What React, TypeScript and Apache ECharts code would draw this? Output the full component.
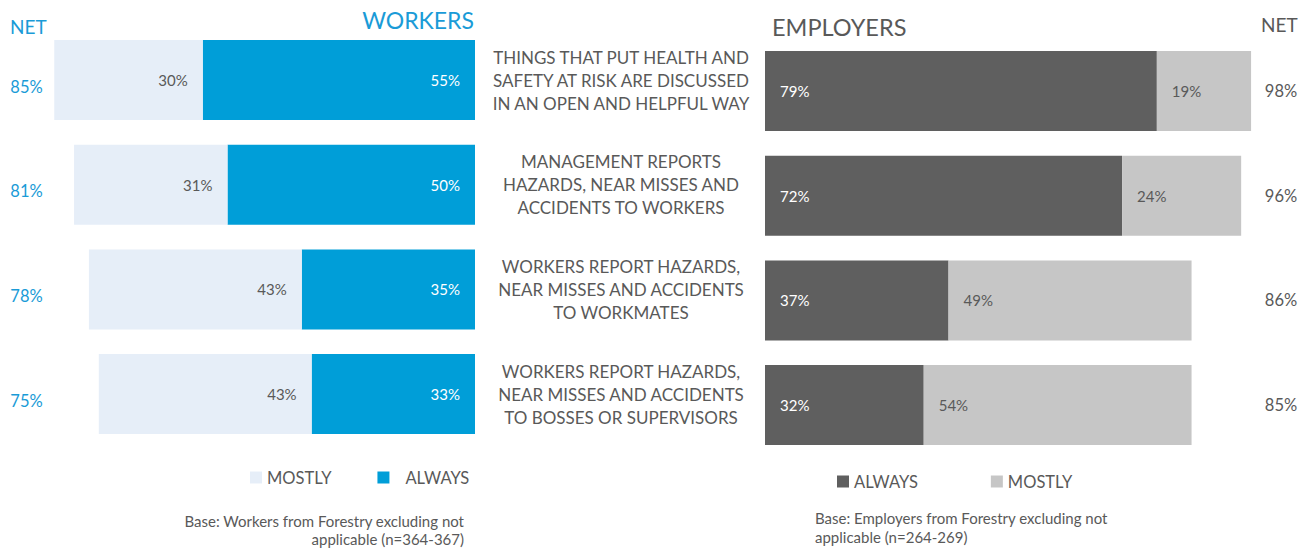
import React, { useEffect, useRef } from "react";
import * as echarts from "echarts";

const categories = [
  "THINGS THAT PUT HEALTH AND\nSAFETY AT RISK ARE DISCUSSED\nIN AN OPEN AND HELPFUL WAY",
  "MANAGEMENT REPORTS\nHAZARDS, NEAR MISSES AND\nACCIDENTS TO WORKERS",
  "WORKERS REPORT HAZARDS,\nNEAR MISSES AND ACCIDENTS\nTO WORKMATES",
  "WORKERS REPORT HAZARDS,\nNEAR MISSES AND ACCIDENTS\nTO BOSSES OR SUPERVISORS",
];
const workersAlways = [55, 50, 35, 33];
const workersMostly = [30, 31, 43, 43];
const workersNet = [85, 81, 78, 75];
const employersAlways = [79, 72, 37, 32];
const employersMostly = [19, 24, 49, 54];
const employersNet = [98, 96, 86, 85];

const FONT = "Lato, 'Open Sans', sans-serif";
const BLUE = "#009ED8";
const BLUE_TEXT = "#1A9BD7";
const LIGHT_BLUE = "#E6EEF8";
const DARK = "#5F5F5F";
const LIGHT_GREY = "#C6C6C6";
const TEXT = "#595959";

const legendNames: Record<string, string> = {
  wMostly: "MOSTLY",
  wAlways: "ALWAYS",
  eAlways: "ALWAYS",
  eMostly: "MOSTLY",
};

export default function App() {
  const ref = useRef<HTMLDivElement>(null);
  useEffect(() => {
    if (!ref.current) return;
    const chart = echarts.init(ref.current, undefined, { renderer: "svg" });
    const pct = (p: any) => p.value + "%";
    const barLabel = (pos: string, color: string) => ({
      show: true,
      position: pos,
      distance: 15,
      color,
      fontSize: 15,
      fontFamily: FONT,
      formatter: pct,
    });
    chart.setOption({
      animation: false,
      textStyle: { fontFamily: FONT },
      grid: [
        { left: 29.5, width: 445.5, top: 27.7, height: 418.7 },
        { left: 765, width: 496, top: 38.7, height: 418.7 },
      ],
      xAxis: [
        { type: "value", gridIndex: 0, min: 0, max: 90, inverse: true, show: false },
        { type: "value", gridIndex: 1, min: 0, max: 100, show: false },
      ],
      yAxis: [
        {
          type: "category",
          gridIndex: 0,
          data: categories,
          inverse: true,
          position: "right",
          axisLine: { show: false },
          axisTick: { show: false },
          axisLabel: {
            margin: 146,
            align: "center",
            color: TEXT,
            fontSize: 17,
            lineHeight: 23,
            fontFamily: FONT,
          },
        },
        {
          type: "category",
          gridIndex: 0,
          data: categories,
          inverse: true,
          position: "left",
          axisLine: { show: false },
          axisTick: { show: false },
          axisLabel: {
            margin: 3,
            align: "center",
            color: BLUE_TEXT,
            fontSize: 16.5,
            fontFamily: FONT,
            formatter: (_v: string, i: number) => "{v|" + workersNet[i] + "%}",
            rich: {
              v: {
                color: BLUE_TEXT,
                fontSize: 16.5,
                fontFamily: FONT,
                padding: [13, 0, 0, 0],
              },
            },
          },
        },
        {
          type: "category",
          gridIndex: 1,
          data: categories,
          inverse: true,
          position: "right",
          axisLine: { show: false },
          axisTick: { show: false },
          axisLabel: {
            margin: 20,
            align: "center",
            color: TEXT,
            fontSize: 16.5,
            fontFamily: FONT,
            formatter: (_v: string, i: number) => employersNet[i] + "%",
          },
        },
      ],
      legend: [
        {
          data: [
            { name: "wMostly" },
            { name: "wAlways", textStyle: { padding: [0, 0, 0, 11] } },
          ],
          left: 250,
          top: 469,
          padding: 0,
          icon: "rect",
          itemWidth: 12,
          itemHeight: 12,
          itemGap: 46,
          formatter: (n: string) => legendNames[n],
          textStyle: { color: TEXT, fontSize: 16.5, fontFamily: FONT },
          selectedMode: false,
        },
        {
          data: ["eAlways", "eMostly"],
          left: 837,
          top: 473,
          padding: 0,
          icon: "rect",
          itemWidth: 12,
          itemHeight: 12,
          itemGap: 73,
          formatter: (n: string) => legendNames[n],
          textStyle: { color: TEXT, fontSize: 16.5, fontFamily: FONT },
          selectedMode: false,
        },
      ],
      series: [
        {
          name: "wAlways",
          type: "bar",
          xAxisIndex: 0,
          yAxisIndex: 0,
          stack: "w",
          data: workersAlways,
          barWidth: 80,
          itemStyle: { color: BLUE },
          label: barLabel("insideRight", "#FFFFFF"),
        },
        {
          name: "wMostly",
          type: "bar",
          xAxisIndex: 0,
          yAxisIndex: 0,
          stack: "w",
          data: workersMostly,
          barWidth: 80,
          itemStyle: { color: LIGHT_BLUE },
          label: barLabel("insideRight", TEXT),
        },
        {
          name: "eAlways",
          type: "bar",
          xAxisIndex: 1,
          yAxisIndex: 2,
          stack: "e",
          data: employersAlways,
          barWidth: 80,
          itemStyle: { color: DARK },
          label: barLabel("insideLeft", "#FFFFFF"),
        },
        {
          name: "eMostly",
          type: "bar",
          xAxisIndex: 1,
          yAxisIndex: 2,
          stack: "e",
          data: employersMostly,
          barWidth: 80,
          itemStyle: { color: LIGHT_GREY },
          label: barLabel("insideLeft", TEXT),
        },
      ],
      graphic: [
        {
          type: "text",
          x: 10,
          y: 17,
          style: { text: "NET", fill: BLUE_TEXT, fontSize: 19, fontFamily: FONT },
        },
        {
          type: "text",
          x: 474,
          y: 8,
          style: { text: "WORKERS", fill: BLUE_TEXT, fontSize: 23, align: "right", fontFamily: FONT },
        },
        {
          type: "text",
          x: 772,
          y: 15,
          style: { text: "EMPLOYERS", fill: TEXT, fontSize: 23.5, fontFamily: FONT },
        },
        {
          type: "text",
          x: 1261,
          y: 15,
          style: { text: "NET", fill: TEXT, fontSize: 19, fontFamily: FONT },
        },
        {
          type: "text",
          x: 464,
          y: 512,
          style: {
            text: "Base: Workers from Forestry excluding not\napplicable (n=364-367)",
            fill: TEXT,
            fontSize: 15,
            lineHeight: 18,
            align: "right",
            fontFamily: FONT,
          },
        },
        {
          type: "text",
          x: 815,
          y: 508,
          style: {
            text: "Base: Employers from Forestry excluding not\napplicable (n=264-269)",
            fill: TEXT,
            fontSize: 15,
            lineHeight: 19,
            fontFamily: FONT,
          },
        },
      ],
    });
    return () => chart.dispose();
  }, []);
  return (
    <div
      ref={ref}
      style={{ position: "absolute", left: 0, top: 0, width: 1316, height: 548, background: "#fff" }}
    />
  );
}
